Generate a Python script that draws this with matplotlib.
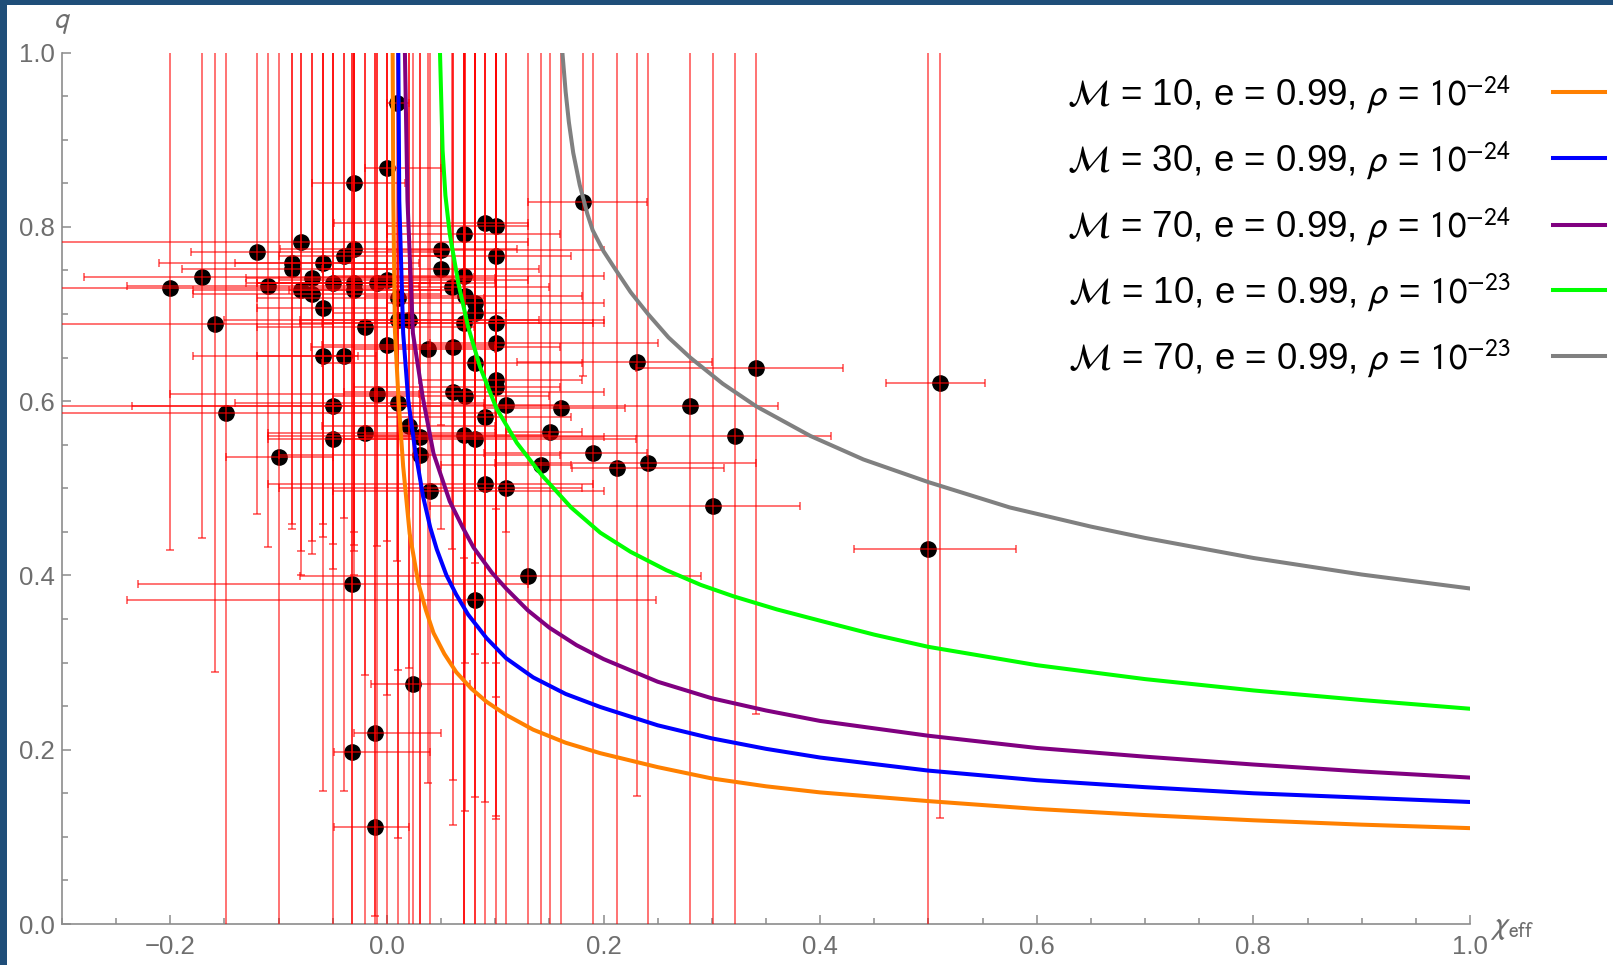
import numpy as np
import matplotlib
matplotlib.use('Agg')
import matplotlib.pyplot as plt
from matplotlib.patches import Rectangle
from matplotlib.ticker import MultipleLocator, FixedLocator

plt.rcParams['font.family'] = ['Liberation Sans', 'DejaVu Sans']
plt.rcParams['mathtext.fontset'] = 'stixsans'

# observed events: chi_eff, q and error-bar ends
chi = [-0.200, -0.171, -0.159, -0.149, -0.120, -0.110, -0.100, -0.088, -0.088, -0.079,
       -0.079, -0.069, -0.069, -0.059, -0.059, -0.059, -0.050, -0.050, -0.050, -0.040,
       -0.040, -0.030, -0.030, -0.030, -0.030, -0.032, -0.032, -0.011, -0.011, 0.024,
       0.000, 0.009, -0.020, -0.020, -0.009, -0.009, 0.000, 0.000, 0.010, 0.010,
       0.010, 0.020, 0.020, 0.031, 0.031, 0.038, 0.040, 0.050, 0.050, 0.060,
       0.061, 0.061, 0.071, 0.071, 0.072, 0.071, 0.072, 0.071, 0.081, 0.081,
       0.081, 0.081, 0.091, 0.091, 0.091, 0.101, 0.101, 0.101, 0.101, 0.101,
       0.101, 0.110, 0.110, 0.130, 0.142, 0.151, 0.161, 0.181, 0.190, 0.212,
       0.241, 0.231, 0.280, 0.301, 0.321, 0.341, 0.500, 0.511, 0.081]
q = [0.730, 0.742, 0.688, 0.586, 0.771, 0.732, 0.536, 0.758, 0.752, 0.783,
     0.727, 0.741, 0.723, 0.758, 0.707, 0.652, 0.736, 0.594, 0.557, 0.766,
     0.652, 0.775, 0.850, 0.735, 0.727, 0.390, 0.197, 0.219, 0.111, 0.275,
     0.867, 0.942, 0.685, 0.563, 0.736, 0.608, 0.739, 0.664, 0.718, 0.693,
     0.598, 0.693, 0.571, 0.559, 0.538, 0.660, 0.497, 0.773, 0.752, 0.731,
     0.662, 0.611, 0.792, 0.744, 0.721, 0.690, 0.606, 0.561, 0.712, 0.701,
     0.644, 0.557, 0.804, 0.582, 0.505, 0.801, 0.766, 0.690, 0.667, 0.624,
     0.616, 0.596, 0.500, 0.399, 0.527, 0.564, 0.592, 0.829, 0.541, 0.523,
     0.529, 0.645, 0.594, 0.480, 0.560, 0.638, 0.430, 0.621, 0.372]
chi_lo = [-0.33, -0.28, -0.33, -0.33, -0.181, -0.24, -0.149, -0.21, -0.189, -0.33,
          -0.179, -0.13, -0.179, -0.14, -0.12, -0.179, -0.12, -0.33, -0.11, -0.10,
          -0.12, -0.099, -0.069, -0.13, -0.09, -0.23, -0.049, -0.030, -0.049, -0.015,
          -0.02, 0.00, -0.12, -0.11, -0.12, -0.20, -0.10, -0.06, -0.12, -0.15,
          -0.14, -0.08, -0.06, -0.02, -0.10, -0.03, -0.05, 0.00, -0.06, -0.01,
          -0.07, -0.04, 0.00, -0.05, -0.02, -0.08, -0.05, -0.02, 0.00, -0.05,
          -0.06, -0.04, -0.049, 0.00, -0.11, 0.00, 0.02, -0.06, 0.04, 0.03,
          -0.03, 0.05, -0.10, -0.08, 0.05, 0.11, 0.09, 0.13, 0.09, 0.171,
          0.10, 0.12, -0.235, 0.04, -0.11, 0.23, 0.431, 0.461, -0.24]
chi_hi = [0.00, 0.08, -0.05, 0.10, 0.05, 0.03, -0.05, 0.00, 0.02, 0.13,
          0.06, 0.10, 0.05, 0.03, 0.00, -0.027, 0.04, 0.05, 0.03, 0.05,
          -0.01, 0.12, 0.017, 0.07, 0.05, 0.13, 0.040, 0.050, 0.020, 0.077,
          0.05, 0.02, 0.08, 0.10, 0.10, 0.03, 0.13, 0.10, 0.09, 0.20,
          0.09, 0.14, 0.10, 0.20, 0.16, 0.10, 0.20, 0.20, 0.14, 0.15,
          0.16, 0.20, 0.16, 0.20, 0.18, 0.19, 0.15, 0.15, 0.20, 0.11,
          0.18, 0.23, 0.13, 0.17, 0.19, 0.13, 0.17, 0.20, 0.25, 0.18,
          0.16, 0.16, 0.18, 0.29, 0.17, 0.18, 0.22, 0.24, 0.24, 0.311,
          0.341, 0.30, 0.361, 0.381, 0.41, 0.421, 0.581, 0.552, 0.248]
q_lo = [0.429, 0.443, 0.289, -0.02, 0.470, 0.433, -0.02, 0.459, 0.453, 0.428,
        0.400, 0.440, 0.424, 0.459, 0.444, 0.153, 0.436, -0.02, 0.407, 0.466,
        0.153, 0.435, 0.428, 0.400, 0.450, -0.02, -0.02, 0.009, -0.02, -0.02,
        0.439, 0.416, 0.286, -0.02, 0.434, -0.02, -0.02, 0.263, 0.292, 0.099,
        -0.02, 0.294, -0.02, -0.02, -0.02, 0.162, -0.02, 0.453, 0.573, 0.430,
        0.165, 0.114, 0.420, -0.02, 0.300, -0.02, 0.130, -0.02, 0.414, 0.310,
        0.146, -0.02, 0.300, -0.02, 0.140, 0.476, 0.300, 0.260, 0.124, 0.120,
        -0.02, 0.450, -0.02, -0.02, -0.02, -0.02, -0.02, 0.629, -0.02, -0.02,
        -0.02, 0.147, -0.02, -0.02, -0.02, 0.241, -0.02, 0.122, -0.02]
q_hi = [1.02] * len(q)

# model curves q(chi_eff)
orange_chi = [0.0053, 0.0059, 0.0074, 0.0108, 0.015, 0.021, 0.029, 0.036, 0.043, 0.053,
              0.064, 0.078, 0.092, 0.11, 0.135, 0.165, 0.197, 0.25, 0.30, 0.35,
              0.40, 0.50, 0.60, 0.70, 0.80, 0.90, 1.00]
orange_q = [1.0, 0.83, 0.68, 0.60, 0.525, 0.448, 0.391, 0.360, 0.334, 0.310,
            0.289, 0.270, 0.255, 0.240, 0.223, 0.208, 0.196, 0.180, 0.167, 0.158,
            0.151, 0.141, 0.132, 0.125, 0.119, 0.114, 0.110]
blue_chi = [0.0105, 0.0114, 0.015, 0.0197, 0.026, 0.0335, 0.040, 0.046, 0.055, 0.064,
            0.075, 0.092, 0.11, 0.135, 0.165, 0.197, 0.25, 0.30, 0.35, 0.40,
            0.50, 0.60, 0.70, 0.80, 0.90, 1.00]
blue_q = [1.0, 0.83, 0.678, 0.601, 0.544, 0.490, 0.455, 0.430, 0.400, 0.378,
          0.355, 0.328, 0.305, 0.283, 0.264, 0.249, 0.228, 0.213, 0.201, 0.191,
          0.176, 0.165, 0.157, 0.150, 0.145, 0.140]
purple_chi = [0.0166, 0.019, 0.024, 0.033, 0.043, 0.058, 0.070, 0.080, 0.097, 0.11,
              0.13, 0.15, 0.175, 0.20, 0.25, 0.30, 0.35, 0.40, 0.50, 0.60,
              0.70, 0.80, 0.90, 1.00]
purple_q = [1.0, 0.83, 0.678, 0.605, 0.540, 0.485, 0.455, 0.432, 0.403, 0.385,
            0.360, 0.340, 0.320, 0.304, 0.278, 0.259, 0.245, 0.233, 0.216, 0.202,
            0.192, 0.183, 0.175, 0.168]
green_chi = [0.049, 0.0514, 0.054, 0.058, 0.066, 0.075, 0.086, 0.101, 0.120, 0.143,
             0.17, 0.197, 0.225, 0.258, 0.29, 0.32, 0.36, 0.40, 0.45, 0.50,
             0.60, 0.70, 0.80, 0.90, 1.00]
green_q = [1.0, 0.888, 0.836, 0.792, 0.735, 0.685, 0.639, 0.592, 0.552, 0.515,
           0.478, 0.449, 0.427, 0.406, 0.389, 0.376, 0.361, 0.348, 0.332, 0.318,
           0.297, 0.281, 0.268, 0.257, 0.247]
gray_chi = [0.162, 0.165, 0.168, 0.172, 0.178, 0.185, 0.190, 0.200, 0.2105, 0.225,
            0.241, 0.260, 0.280, 0.310, 0.341, 0.391, 0.44, 0.50, 0.575, 0.65,
            0.70, 0.80, 0.90, 1.00]
gray_q = [1.0, 0.955, 0.92, 0.885, 0.848, 0.815, 0.796, 0.772, 0.752, 0.725,
          0.700, 0.673, 0.650, 0.620, 0.594, 0.560, 0.533, 0.507, 0.478, 0.456,
          0.443, 0.420, 0.401, 0.385]

labels = [r'$\mathcal{M}$ = 10, e = 0.99, $\rho$ = $10^{-24}$',
          r'$\mathcal{M}$ = 30, e = 0.99, $\rho$ = $10^{-24}$',
          r'$\mathcal{M}$ = 70, e = 0.99, $\rho$ = $10^{-24}$',
          r'$\mathcal{M}$ = 10, e = 0.99, $\rho$ = $10^{-23}$',
          r'$\mathcal{M}$ = 70, e = 0.99, $\rho$ = $10^{-23}$']
colors = ['#ff8000', '#0000ff', '#800080', '#00ff00', '#808080']

fig = plt.figure(figsize=(16.13, 9.65), dpi=100)
fig.patch.set_facecolor('#1f4e79')
fig.add_artist(Rectangle((7/1613, 0), 1, 1 - 5/965, transform=fig.transFigure,
                         facecolor='white', edgecolor='none', zorder=-5))
ax = fig.add_axes([62/1613, 41/965, 1408/1613, 871.5/965])
ax.set_facecolor('none')

chi_a = np.array(chi)
q_a = np.array(q)
xerr = [chi_a - np.array(chi_lo), np.array(chi_hi) - chi_a]
yerr = [q_a - np.array(q_lo), np.array(q_hi) - q_a]

ax.plot(chi, q, 'o', color='black', ms=11, zorder=2)
ax.errorbar(chi, q, xerr=xerr, yerr=yerr, fmt='none', ecolor='red', elinewidth=1.1,
            capsize=3.2, capthick=1.1, alpha=0.7, zorder=3)

curves = [(orange_chi, orange_q), (blue_chi, blue_q), (purple_chi, purple_q),
          (green_chi, green_q), (gray_chi, gray_q)]
for (cx, cq), c, lab in zip(curves, colors, labels):
    ax.plot(cx, cq, color=c, lw=2.9, label=lab, zorder=4, solid_joinstyle='round')

ax.set_xlim(-0.3, 1.0)
ax.set_ylim(0, 1.0)
for s in ['top', 'right']:
    ax.spines[s].set_visible(False)
for s in ['left', 'bottom']:
    ax.spines[s].set_color('#8c8c8c')
    ax.spines[s].set_linewidth(1.2)

ax.xaxis.set_major_locator(FixedLocator([-0.2, 0.0, 0.2, 0.4, 0.6, 0.8, 1.0]))
ax.xaxis.set_minor_locator(MultipleLocator(0.05))
ax.yaxis.set_major_locator(FixedLocator([0.0, 0.2, 0.4, 0.6, 0.8, 1.0]))
ax.yaxis.set_minor_locator(MultipleLocator(0.05))
ax.set_xticklabels(['\u22120.2', '0.0', '0.2', '0.4', '0.6', '0.8', '1.0'])
ax.set_yticklabels(['0.0', '0.2', '0.4', '0.6', '0.8', '1.0'])
ax.tick_params(which='both', direction='in', color='#8c8c8c', width=1.1,
               labelcolor='#6e6e6e', labelsize=18.5)
ax.tick_params(which='major', length=6.5)
ax.tick_params(which='minor', length=4.3)
ax.tick_params(axis='x', pad=8)
ax.tick_params(axis='y', pad=5)

ax.text(0.0, 1.035, r'$q$', transform=ax.transAxes, ha='center', va='center',
        fontsize=21, color='#6e6e6e')
ax.text(1.03, -0.004, r'$\chi_{\mathrm{eff}}$', transform=ax.transAxes, ha='center',
        va='center', fontsize=22, color='#6e6e6e')

leg = fig.legend(loc='upper right', bbox_to_anchor=(1605/1613, 1 - 73/965),
                 markerfirst=False, frameon=False, fontsize=26.5, handlelength=1.4,
                 handletextpad=1.15, labelspacing=0.64, borderpad=0, borderaxespad=0)

fig.savefig('out.png', dpi=100)
